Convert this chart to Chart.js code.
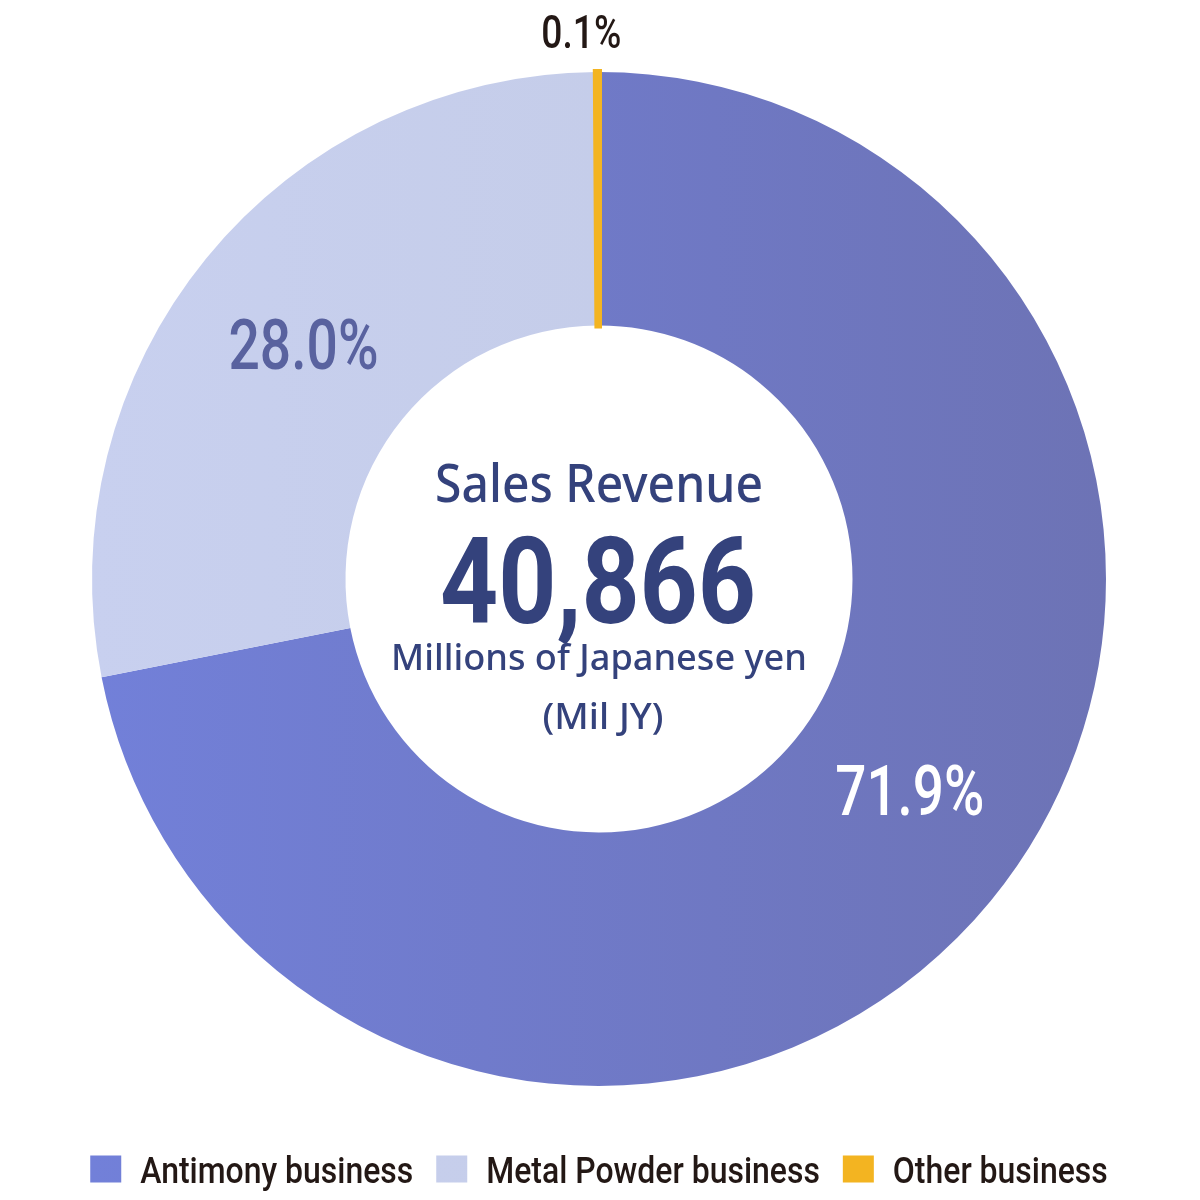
<!DOCTYPE html>
<html lang="en">
<head>
    <meta charset="UTF-8">
    <title>Sales Revenue</title>
    <script src="https://cdn.jsdelivr.net/npm/chart.js"></script>
    <style>
        body { margin: 0; background: #fff; }
        canvas { display: block; }
    </style>
</head>
<body>
    <canvas id="salesChart" width="1200" height="1200"></canvas>

    <script>
        // segment names and shares (%)
        const segments = ["Antimony business", "Metal Powder business", "Other business"];
        const shares = [71.9, 28.0, 0.1];
        const shareLabels = ["71.9%", "28.0%", "0.1%"];

        // centre text
        const centreTitle = "Sales Revenue";
        const centreValue = "40,866";
        const centreUnit = "Millions of Japanese yen";
        const centreUnitShort = "(Mil JY)";

        const NAVY = "#34427c";
        const INK = "#231815";
        const ORANGE = "#f3b421";

        // horizontal gradient across the chart area for the two big slices
        function sliceColor(ctx) {
            const area = ctx.chart.chartArea;
            const i = ctx.dataIndex;
            if (i === 2) return ORANGE;
            if (!area) return i === 0 ? "#6f78c4" : "#c5cdea";
            const g = ctx.chart.ctx.createLinearGradient(area.left, 0, area.right, 0);
            if (i === 0) {
                g.addColorStop(0, "#7280d9");
                g.addColorStop(1, "#6d73b5");
            } else {
                g.addColorStop(0, "#c8d0ef");
                g.addColorStop(1, "#c2cae4");
            }
            return g;
        }

        // draws text (alphabetic baseline), squeezed horizontally to width w
        function fitText(c, text, x, y, font, w) {
            c.save();
            c.font = font;
            const m = c.measureText(text).width;
            c.translate(x, y);
            if (w) c.scale(w / m, 1);
            c.fillText(text, 0, 0);
            c.restore();
        }

        const labelPlugin = {
            id: "sliceLabels",
            afterDatasetsDraw(chart) {
                const c = chart.ctx;
                const arcs = chart.getDatasetMeta(0).data;
                const cx = arcs[0].x, cy = arcs[0].y;
                const outer = arcs[0].outerRadius;

                c.save();
                c.textAlign = "center";
                c.textBaseline = "alphabetic";

                const p0 = arcs[0].tooltipPosition();
                c.fillStyle = "#ffffff";
                fitText(c, shareLabels[0], p0.x + 17, p0.y - 5, "500 70px Roboto", 149);

                const p1 = arcs[1].tooltipPosition();
                c.fillStyle = "#59629f";
                fitText(c, shareLabels[1], p1.x - 1, p1.y + 31, "500 70px Roboto", 150);

                // small slice: label outside, above the ring
                const a = arcs[2];
                const mid = (a.startAngle + a.endAngle) / 2;
                c.fillStyle = INK;
                fitText(c, shareLabels[2], cx + Math.cos(mid) * (outer + 40) - 16,
                    cy + Math.sin(mid) * (outer + 40) + 16, "500 46px Roboto", 80);

                // centre block
                c.fillStyle = NAVY;
                fitText(c, centreTitle, cx, cy - 77, "500 52px 'Noto Sans'", 328);
                fitText(c, centreValue, cx - 1, cy + 44, "bold 121px Roboto", 316);
                fitText(c, centreUnit, cx, cy + 91, "500 37px 'Noto Sans'", 416);
                fitText(c, centreUnitShort, cx + 4, cy + 150, "500 37px 'Noto Sans'", 121);
                c.restore();
            }
        };

        // legend row under the ring
        const legendPlugin = {
            id: "bottomLegend",
            afterDraw(chart) {
                const c = chart.ctx;
                const area = chart.chartArea;
                const arcs = chart.getDatasetMeta(0).data;
                const font = "500 37px Roboto";
                const box = 31, gap = 19, sep = 23;
                c.save();
                c.font = font;
                const squeeze = 273 / c.measureText(chart.data.labels[0]).width;
                const widths = chart.data.labels.map(t => c.measureText(t).width * squeeze);
                const total = widths.reduce((s, w) => s + w + box + gap, 0) + sep * (widths.length - 1);
                let x = (area.left + area.right) / 2 - total / 2;
                const yMid = 1169;
                chart.data.labels.forEach((t, i) => {
                    c.fillStyle = arcs[i].options.backgroundColor;
                    c.fillRect(x, yMid - 13.5, box, 27);
                    x += box + gap;
                    c.fillStyle = INK;
                    c.textAlign = "left";
                    c.textBaseline = "alphabetic";
                    fitText(c, t, x, yMid + 14, font, widths[i]);
                    x += widths[i] + sep;
                });
                c.restore();
            }
        };

        const ctx = document.getElementById("salesChart").getContext("2d");
        new Chart(ctx, {
            type: "doughnut",
            data: {
                labels: segments,
                datasets: [{
                    data: shares,
                    backgroundColor: sliceColor,
                    borderColor: ["rgba(0,0,0,0)", "rgba(0,0,0,0)", ORANGE],
                    borderWidth: [0, 0, 6],
                    borderAlign: "center",
                    borderJoinStyle: "miter",
                    hoverOffset: 0
                }]
            },
            options: {
                responsive: false,
                devicePixelRatio: 1,
                animation: false,
                cutout: "50%",
                layout: {
                    padding: { top: 69, left: 89, right: 91, bottom: 111 }
                },
                plugins: {
                    tooltip: { enabled: false },
                    legend: { display: false }
                }
            },
            plugins: [labelPlugin, legendPlugin]
        });
    </script>
</body>
</html>
